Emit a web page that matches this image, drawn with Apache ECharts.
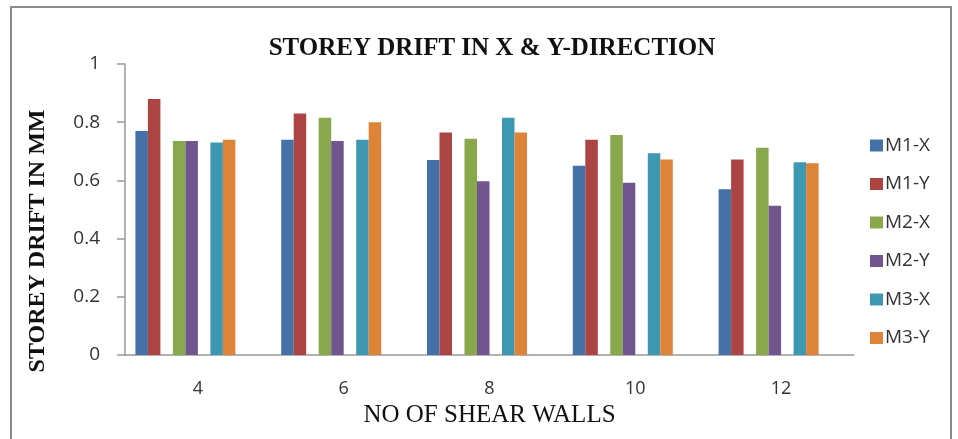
<!DOCTYPE html>
<html>
<head>
<meta charset="utf-8">
<script src="https://cdn.jsdelivr.net/npm/echarts@6/dist/echarts.min.js"></script>
<style>
  html, body { margin: 0; padding: 0; background: #fff; }
  #chart { width: 958px; height: 439px; }
</style>
</head>
<body>
<div id="chart"></div>
<script>
// Number of shear walls (categories)
const wallCounts = ['4', '6', '8', '10', '12'];

// Storey drift (mm) per model and direction
const m1x = [0.77, 0.74, 0.67, 0.65, 0.57];
const m1y = [0.88, 0.83, 0.765, 0.74, 0.672];
const m2x = [0.735, 0.815, 0.743, 0.756, 0.712];
const m2y = [0.735, 0.735, 0.597, 0.592, 0.513];
const m3x = [0.73, 0.74, 0.815, 0.693, 0.662];
const m3y = [0.74, 0.80, 0.765, 0.672, 0.659];

const seriesNames = ['M1-X', 'M1-Y', 'M2-X', 'M2-Y', 'M3-X', 'M3-Y'];
const seriesValues = [m1x, m1y, m2x, m2y, m3x, m3y];
const colors = ['#4472a8', '#ab4443', '#89a84b', '#70558f', '#3f98b1', '#dd8438'];

const yTicks = { min: 0, max: 1, interval: 0.2 };

// Bars sit in pairs (X, Y) per model, separated by empty slots
const slotOrder = [0, 1, null, 2, 3, null, 4, 5, null, null];
const series = slotOrder.map((idx, k) => {
  if (idx === null) {
    return {
      name: 'blank' + k,
      type: 'bar',
      barWidth: 12.5,
      barGap: '0%',
      data: wallCounts.map(() => null),
      silent: true
    };
  }
  return {
    name: seriesNames[idx],
    type: 'bar',
    barWidth: 12.5,
    barGap: '0%',
    itemStyle: { color: colors[idx] },
    data: seriesValues[idx]
  };
});

const chart = echarts.init(document.getElementById('chart'), null, { renderer: 'canvas' });
chart.setOption({
  animation: false,
  backgroundColor: '#fff',
  graphic: [{
    type: 'rect',
    shape: { x: 11, y: 7, width: 940, height: 450 },
    style: { fill: 'none', stroke: '#8c8c8c', lineWidth: 2 },
    z: -1
  }, {
    type: 'text',
    x: 38,
    y: 241,
    rotation: Math.PI / 2,
    style: {
      text: 'STOREY DRIFT IN MM',
      fontFamily: 'Liberation Serif',
      fontWeight: 'bold',
      fontSize: 24,
      fill: '#111',
      align: 'center',
      verticalAlign: 'middle'
    }
  }],
  title: {
    text: 'STOREY DRIFT IN X & Y-DIRECTION',
    left: 487,
    textAlign: 'center',
    top: 31,
    textStyle: {
      fontFamily: 'Liberation Serif',
      fontWeight: 'bold',
      fontSize: 25,
      color: '#111'
    }
  },
  legend: {
    orient: 'vertical',
    left: 865,
    top: 131,
    data: seriesNames,
    icon: 'rect',
    itemWidth: 13,
    itemHeight: 12,
    itemGap: 19.5,
    textStyle: {
      fontFamily: 'Open Sans',
      fontSize: 19,
      color: '#333',
      padding: [0, 0, 0, -3]
    }
  },
  grid: { left: 125, right: 104, top: 64, bottom: 84 },
  xAxis: {
    type: 'category',
    data: wallCounts,
    name: 'NO OF SHEAR WALLS',
    nameLocation: 'middle',
    nameGap: 43,
    nameTextStyle: {
      fontFamily: 'Liberation Serif',
      fontSize: 25,
      color: '#111'
    },
    axisLine: { lineStyle: { color: '#999', width: 1.5 } },
    axisTick: { show: false },
    axisLabel: {
      margin: 25,
      fontFamily: 'Open Sans',
      fontSize: 18,
      color: '#333'
    }
  },
  yAxis: {
    type: 'value',
    min: yTicks.min,
    max: yTicks.max,
    interval: yTicks.interval,
    axisLine: { show: true, lineStyle: { color: '#999', width: 1.5 } },
    axisTick: { show: true, length: 8, lineStyle: { color: '#999', width: 1.5 } },
    splitLine: { show: false },
    axisLabel: {
      margin: 25,
      fontFamily: 'Open Sans',
      fontSize: 19,
      color: '#333',
      formatter: v => String(Math.round(v * 10) / 10)
    }
  },
  series: series
});
</script>
</body>
</html>
